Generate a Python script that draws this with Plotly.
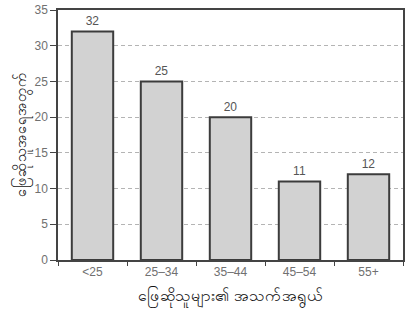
import plotly.graph_objects as go

age_groups = ["<25", "25–34", "35–44", "45–54", "55+"]
respondents = [32, 25, 20, 11, 12]
y_ticks = [0, 5, 10, 15, 20, 25, 30, 35]

fig = go.Figure(
    go.Bar(
        x=age_groups,
        y=respondents,
        width=0.6,
        marker=dict(color="#d2d2d2", line=dict(color="#3c3c3c", width=2)),
        text=[str(v) for v in respondents],
        textposition="outside",
        textfont=dict(family="Liberation Sans, Arial, sans-serif", size=12, color="#555555"),
        cliponaxis=False,
    )
)

fig.update_layout(
    width=407,
    height=322,
    margin=dict(l=58, r=2, t=10, b=62),
    paper_bgcolor="white",
    plot_bgcolor="white",
    showlegend=False,
    bargap=0.4,
    font=dict(family="Liberation Sans, Arial, sans-serif", color="#555555"),
)

fig.update_xaxes(
    type="category",
    showline=True,
    linecolor="#444444",
    linewidth=1.5,
    mirror=True,
    ticks="outside",
    tickson="boundaries",
    ticklen=4,
    tickcolor="#444444",
    tickfont=dict(size=12, color="#707070"),
    showgrid=False,
    title=dict(
        text="ဖြေဆိုသူများ၏ အသက်အရွယ်",
        font=dict(size=16, color="#111111"),
        standoff=12,
    ),
)

fig.update_yaxes(
    range=[0, 35],
    tickvals=y_ticks,
    showline=True,
    linecolor="#444444",
    linewidth=1.5,
    mirror=True,
    ticks="outside",
    ticklen=6,
    tickcolor="#444444",
    tickfont=dict(size=12, color="#707070"),
    showgrid=True,
    gridcolor="#b4b4b4",
    griddash="4px,3px",
    gridwidth=1,
    zeroline=False,
    title=dict(
        text="ဖြေဆိုသူအရေအတွက်",
        font=dict(size=14.5, color="#111111"),
        standoff=4,
    ),
)

fig.write_html("out.html")
